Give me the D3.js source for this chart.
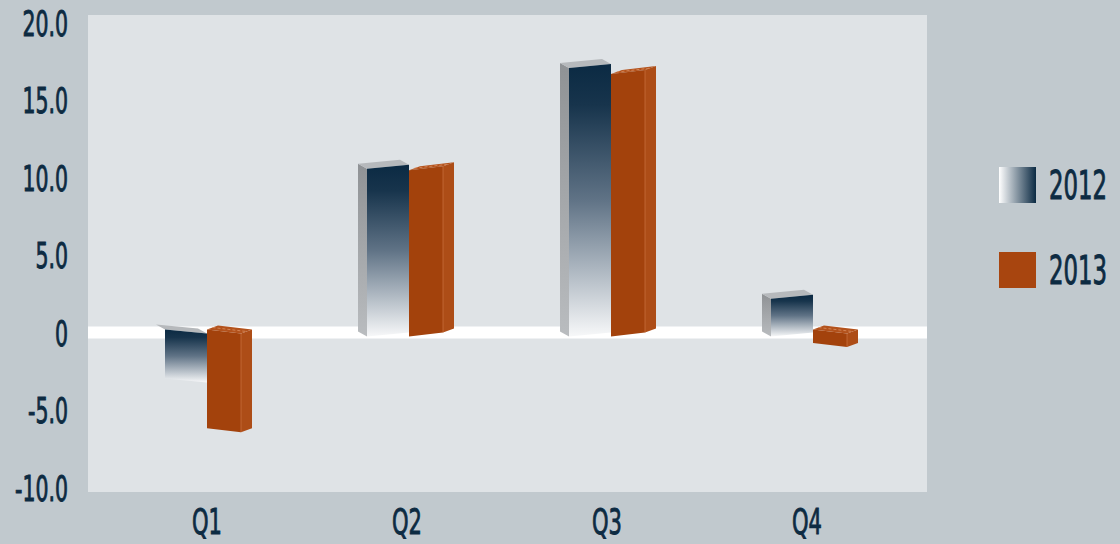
<!DOCTYPE html>
<html>
<head>
<meta charset="utf-8">
<script src="https://cdn.jsdelivr.net/npm/d3@7/dist/d3.min.js"></script>
<style>
  html, body { margin: 0; padding: 0; background: #c1c9ce; }
  svg { display: block; }
  text { font-family: "Liberation Sans Narrow", "DejaVu Sans Condensed", "Liberation Sans", sans-serif; fill: #0d2b42; }
</style>
</head>
<body>
<svg id="chart" width="1120" height="544"></svg>
<script>
const categories = ["Q1", "Q2", "Q3", "Q4"];
const series2012 = [-3.1, 10.7, 17.2, 2.3];
const series2013 = [-6.3, 10.6, 16.8, -0.8];
const yTicks = [20, 15, 10, 5, 0, -5, -10];
const yTickLabels = ["20.0", "15.0", "10.0", "5.0", "0", "-5.0", "-10.0"];
const legendLabels = ["2012", "2013"];

const W = 1120, H = 544;
const plot = { left: 88, right: 927, top: 15, bottom: 492 };
const SX = 0.65; // horizontal condensing of text
const FONT = "\"DejaVu Sans Condensed\", \"Liberation Sans\", sans-serif";
const TXT = "#0d2b42";

const svg = d3.select("#chart");
svg.append("rect").attr("width", W).attr("height", H).attr("fill", "#c1c9ce");

const defs = svg.append("defs");
const gV = defs.append("linearGradient").attr("id", "g2012v")
  .attr("x1", 0).attr("y1", 0).attr("x2", 0).attr("y2", 1);
gV.append("stop").attr("offset", "0%").attr("stop-color", "#0b2a43");
gV.append("stop").attr("offset", "15%").attr("stop-color", "#17344c");
gV.append("stop").attr("offset", "50%").attr("stop-color", "#607386");
gV.append("stop").attr("offset", "100%").attr("stop-color", "#f7f8f9");
const gH = defs.append("linearGradient").attr("id", "g2012h")
  .attr("x1", 0).attr("y1", 0).attr("x2", 1).attr("y2", 0);
gH.append("stop").attr("offset", "0%").attr("stop-color", "#ffffff");
gH.append("stop").attr("offset", "100%").attr("stop-color", "#0b2a43");
const gS = defs.append("linearGradient").attr("id", "g2012side")
  .attr("x1", 0).attr("y1", 0).attr("x2", 0).attr("y2", 1);
gS.append("stop").attr("offset", "0%").attr("stop-color", "#8f9295");
gS.append("stop").attr("offset", "100%").attr("stop-color", "#b9bcbf");

const y = d3.scaleLinear().domain([-10, 20]).range([487.5, 22.5]);
const x = d3.scaleBand().domain(categories).range([107, 907]);
const xb = d3.scaleBand().domain(categories).range([165, 973]);

// plot area
svg.append("rect")
  .attr("x", plot.left).attr("y", plot.top)
  .attr("width", plot.right - plot.left).attr("height", plot.bottom - plot.top)
  .attr("fill", "#dfe3e6");

// zero band
svg.append("rect")
  .attr("x", plot.left).attr("y", y(0) - 6)
  .attr("width", plot.right - plot.left).attr("height", 12)
  .attr("fill", "#ffffff");

function styleText(sel, size) {
  sel.style("font-size", size + "px")
    .style("font-weight", "normal")
    .style("fill", TXT)
    .style("stroke", TXT)
    .style("stroke-width", "0.9px")
    .style("font-family", FONT);
}

// Y axis
const yAxis = svg.append("g").attr("transform", "translate(68,0)")
  .call(d3.axisLeft(y).tickValues(yTicks).tickFormat((d, i) => yTickLabels[i]).tickSize(0).tickPadding(0));
yAxis.select(".domain").remove();
yAxis.selectAll("text")
  .attr("x", 0).attr("dy", "0.36em")
  .attr("text-anchor", "end")
  .attr("transform", `scale(${SX},1)`)
  .call(styleText, 35);

// X axis
const xAxis = svg.append("g").attr("transform", "translate(0,521)")
  .call(d3.axisBottom(x).tickSize(0).tickPadding(0));
xAxis.select(".domain").remove();
xAxis.selectAll("text")
  .attr("y", 0).attr("dy", "0.36em")
  .attr("transform", `scale(${SX},1)`)
  .call(styleText, 36);

// 3D bar helper
function box(g, x0, x1, v, dx, dy, sideOnRight, fills, showSide) {
  const s = v >= 0 ? 4 : -4;
  const yA = v >= 0 ? y(v) : y(0) - 1;
  const yB = v >= 0 ? y(0) + 2 : y(v);
  const L = (yy) => yy + s / 2, R = (yy) => yy - s / 2;
  const pts = a => a.map(p => p.join(",")).join(" ");
  const top = [[x0, L(yA)], [x1, R(yA)], [x1 + dx, R(yA) + dy], [x0 + dx, L(yA) + dy]];
  let side;
  if (sideOnRight) {
    side = [[x1, R(yA)], [x1 + dx, R(yA) + dy], [x1 + dx, R(yB) + dy], [x1, R(yB)]];
  } else {
    side = [[x0, L(yA)], [x0 + dx, L(yA) + dy], [x0 + dx, L(yB) + dy], [x0, L(yB)]];
  }
  const front = [[x0, L(yA)], [x1, R(yA)], [x1, R(yB)], [x0, L(yB)]];
  if (showSide) g.append("polygon").attr("points", pts(side)).attr("fill", fills.side);
  g.append("polygon").attr("points", pts(top)).attr("fill", fills.top);
  if (fills.dash) {
    g.append("line")
      .attr("x1", x0 + dx * 0.5).attr("y1", L(yA) + dy * 0.5)
      .attr("x2", x1 + dx * 0.5).attr("y2", R(yA) + dy * 0.5)
      .attr("stroke", fills.dash).attr("stroke-width", 1)
      .attr("stroke-dasharray", "3,2").attr("opacity", 0.8);
  }
  g.append("polygon").attr("points", pts(front)).attr("fill", fills.front);
  if (fills.edge && sideOnRight) {
    g.append("line").attr("x1", x1).attr("y1", R(yA)).attr("x2", x1).attr("y2", R(yB))
      .attr("stroke", fills.edge).attr("stroke-width", 1).attr("opacity", 0.6);
  }
}

const bars = svg.append("g");
categories.forEach((cat, i) => {
  const b = xb(cat);
  // 2012
  box(bars, b, b + 42, series2012[i], -9, -5, false,
      { front: "url(#g2012v)", side: "url(#g2012side)", top: "#b6b9bc" }, series2012[i] >= 0);
  // 2013
  box(bars, b + 42, b + 76, series2013[i], 11, -4, true,
      { front: "#a3420c", side: "#ad4d17", top: "#b3521c", dash: "#dc9062", edge: "#d27a48" }, true);
});

// legend
const legend = svg.append("g");
const legendFills = ["url(#g2012h)", "#a8450f"];
const legendY = [167, 252];
legendLabels.forEach((lab, i) => {
  legend.append("rect").attr("x", 999).attr("y", legendY[i]).attr("width", 37).attr("height", 36)
    .attr("fill", legendFills[i]);
  legend.append("text")
    .attr("transform", `translate(1049,${legendY[i] + 18}) scale(${SX},1)`)
    .attr("dy", "0.36em")
    .call(styleText, 39)
    .text(lab);
});
</script>
</body>
</html>
